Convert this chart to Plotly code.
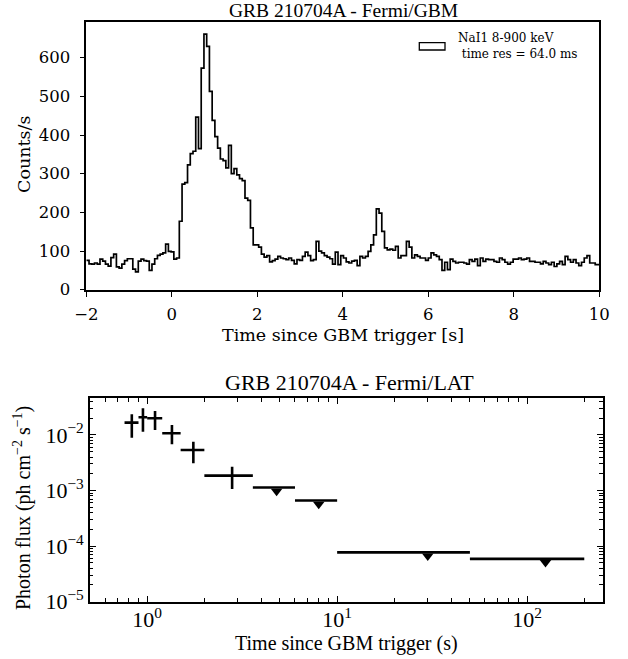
import plotly.graph_objects as go

# ---------------- data: GBM light curve (64 ms bins starting at -2 s) ----------------
BIN_START = -2.0
BIN_WIDTH = 0.064
counts = [
    76, 67, 66, 69, 66, 79, 74, 66, 61, 83, 92, 59, 56, 66, 75, 80, 80, 53, 46, 74,
    79, 75, 74, 50, 66, 80, 89, 92, 95, 118, 99, 98, 79, 82,
    177, 273, 277, 323, 352, 358, 446, 365, 573, 661,
    629, 513, 438, 396, 366, 338, 334, 315, 373, 300, 313, 297, 287, 282, 237, 231,
    160, 116, 116, 110, 92, 84, 88, 72,
    75, 79, 86, 82, 80, 78, 82, 76, 67, 78, 76, 86, 97, 88, 75, 78, 125, 100, 95, 88,
    84, 80, 66, 97, 65, 88, 82, 72, 69, 74, 76, 62, 86, 82, 86, 99, 116, 142, 209, 198,
    151, 108, 103, 105, 102, 112, 82, 88, 88, 125, 110, 82, 90, 86, 82, 82, 76, 82, 95, 90,
    86,
    78, 50, 71, 52, 79, 73, 69, 71, 71, 69, 66, 78, 73, 79, 62, 82, 73, 79, 78, 78,
    73, 71, 82, 78, 71, 66, 71, 79, 79, 82, 78, 79, 82, 73, 73, 71, 71, 67, 73, 69,
    65, 71, 60, 67, 73, 65, 86, 78, 71, 78, 69, 62, 71, 82, 88, 69, 69, 65, 65,
]

# ---------------- data: LAT photon flux ----------------
det_tstart = [0.76, 0.90, 1.00, 1.20, 1.50, 2.00]
det_tstop = [0.90, 1.00, 1.20, 1.50, 2.00, 3.60]
det_flux = [0.0166, 0.0207, 0.0199, 0.0107, 0.00535, 0.00185]
det_flux_hi = [0.0234, 0.0301, 0.0269, 0.0151, 0.00755, 0.00268]
det_flux_lo = [0.0089, 0.0114, 0.0123, 0.0068, 0.00308, 0.00106]

ul_tstart = [3.6, 6.0, 10.0, 50.0]
ul_tstop = [6.0, 10.0, 50.0, 200.0]
ul_flux = [0.00113, 0.00066, 7.7e-5, 5.9e-5]

# ---------------- figure ----------------
W, H = 628, 659
SERIF = "Liberation Serif"
DJV = "DejaVu Serif"


def px_x(p):
    return p / W


def px_y(p):
    return 1 - p / H


edges = [BIN_START + BIN_WIDTH * i for i in range(len(counts) + 1)]
xs = edges
ys = counts + [counts[-1]]

fig = go.Figure()

fig.add_trace(go.Scatter(
    x=xs, y=ys, mode="lines", line=dict(shape="hv", color="black", width=1.7),
    showlegend=False, xaxis="x", yaxis="y", hoverinfo="skip",
))

# detections
det_t = [(a + b) / 2 for a, b in zip(det_tstart, det_tstop)]
fig.add_trace(go.Scatter(
    x=det_t, y=det_flux, mode="markers", marker=dict(size=1, color="black", opacity=0),
    error_x=dict(type="data", symmetric=False,
                 array=[b - c for b, c in zip(det_tstop, det_t)],
                 arrayminus=[c - a for a, c in zip(det_tstart, det_t)],
                 thickness=2.6, width=0, color="black"),
    error_y=dict(type="data", symmetric=False,
                 array=[h - f for h, f in zip(det_flux_hi, det_flux)],
                 arrayminus=[f - l for f, l in zip(det_flux, det_flux_lo)],
                 thickness=2.6, width=0, color="black"),
    showlegend=False, xaxis="x2", yaxis="y2",
))

# upper limits
ul_t = [(a + b) / 2 for a, b in zip(ul_tstart, ul_tstop)]
fig.add_trace(go.Scatter(
    x=ul_t, y=ul_flux, mode="markers", marker=dict(size=1, color="black", opacity=0),
    error_x=dict(type="data", symmetric=False,
                 array=[b - c for b, c in zip(ul_tstop, ul_t)],
                 arrayminus=[c - a for a, c in zip(ul_tstart, ul_t)],
                 thickness=2.6, width=0, color="black"),
    showlegend=False, xaxis="x2", yaxis="y2",
))
UL_MARKER_SHIFT = 0.86
fig.add_trace(go.Scatter(
    x=ul_t, y=[u * UL_MARKER_SHIFT for u in ul_flux], mode="markers",
    marker=dict(symbol="triangle-down", size=10, color="black", line=dict(width=0)),
    showlegend=False, xaxis="x2", yaxis="y2",
))

top_tickfont = dict(family=DJV, size=16.5, color="black")
bot_tickfont = dict(family=SERIF, size=22, color="black")

dec_minor = []
for d in range(-6, 0):
    for m in range(2, 10):
        dec_minor.append(m * 10 ** d)
x_minor = []
for d in range(-1, 3):
    for m in range(2, 10):
        x_minor.append(m * 10 ** d)

fig.update_layout(
    width=W, height=H, margin=dict(l=0, r=0, t=0, b=0),
    plot_bgcolor="white", paper_bgcolor="white",
    xaxis=dict(domain=[px_x(86.3), px_x(599.3)], anchor="y", range=[-2, 10], automargin=False,
               tickvals=[-2, 0, 2, 4, 6, 8, 10], ticks="outside", ticklen=5, tickwidth=1.3,
               tickcolor="black", showline=True, linecolor="black", linewidth=1.6, mirror=True,
               showgrid=False, zeroline=False, tickfont=top_tickfont, ticklabelstandoff=4),
    yaxis=dict(domain=[px_y(289.7), px_y(21.7)], anchor="x", range=[0, 693], automargin=False,
               tickvals=[0, 100, 200, 300, 400, 500, 600], ticks="outside", ticklen=5,
               tickwidth=1.3, tickcolor="black", showline=True, linecolor="black",
               linewidth=1.6, mirror=True, showgrid=False, zeroline=False, tickfont=top_tickfont,
               ticklabelstandoff=6),
    xaxis2=dict(domain=[px_x(90), px_x(602.7)], anchor="y2", type="log", automargin=False,
                range=[-0.301, 2.398], tickvals=[1, 10, 100],
                ticktext=["10<sup>0</sup>", "10<sup>1</sup>", "10<sup>2</sup>"],
                ticks="inside", ticklen=6, tickwidth=1.3, tickcolor="black",
                minor=dict(ticks="inside", ticklen=3.5, tickwidth=1, tickcolor="black",
                           tickmode="array", tickvals=x_minor),
                showline=True, linecolor="black", linewidth=1.6, mirror="ticks",
                showgrid=False, zeroline=False, tickfont=bot_tickfont, ticklabelstandoff=-3),
    yaxis2=dict(domain=[px_y(601.7), px_y(398.3)], anchor="x2", type="log", automargin=False,
                range=[-5, -1.342], tickvals=[1e-5, 1e-4, 1e-3, 1e-2],
                ticktext=["10<sup>−5</sup>", "10<sup>−4</sup>", "10<sup>−3</sup>", "10<sup>−2</sup>"],
                ticks="inside", ticklen=6, tickwidth=1.3, tickcolor="black",
                minor=dict(ticks="inside", ticklen=3.5, tickwidth=1, tickcolor="black",
                           tickmode="array", tickvals=dec_minor),
                showline=True, linecolor="black", linewidth=1.6, mirror="ticks",
                showgrid=False, zeroline=False, tickfont=bot_tickfont),
)

ann = [
    dict(text="GRB 210704A - Fermi/GBM", x=px_x(343), y=px_y(11), font=dict(family=SERIF, size=19.5)),
    dict(text="Time since GBM trigger [s]", x=px_x(343), y=px_y(335), font=dict(family=DJV, size=17.5)),
    dict(text="Counts/s", x=px_x(24), y=px_y(155), textangle=-90, font=dict(family=DJV, size=17.5)),
    dict(text="GRB 210704A - Fermi/LAT", x=px_x(349), y=px_y(382), font=dict(family=SERIF, size=22)),
    dict(text="Time since GBM trigger (s)", x=px_x(346), y=px_y(643), font=dict(family=SERIF, size=20)),
    dict(text="Photon flux (ph cm<sup>−2</sup> s<sup>−1</sup>)", x=px_x(22), y=px_y(508),
         textangle=-90, font=dict(family=SERIF, size=20)),
]
for a in ann:
    a["font"]["color"] = "black"
    fig.add_annotation(xref="paper", yref="paper", showarrow=False,
                       xanchor="center", yanchor="middle", **a)

# legend (histogram-style patch)
fig.add_shape(type="rect", xref="paper", yref="paper",
              x0=px_x(419.3), x1=px_x(445), y0=px_y(50), y1=px_y(42.7),
              line=dict(color="black", width=1.3), fillcolor="white")
fig.add_annotation(xref="paper", yref="paper", showarrow=False,
                   text="NaI1 8-900 keV<br> time res = 64.0 ms", align="left",
                   x=px_x(456), y=px_y(46), xanchor="left", yanchor="middle",
                   font=dict(family="DejaVu Serif", size=12, color="black"))

fig.write_html("out.html", config={"displayModeBar": False},
               post_script="document.body.style.margin='0px';")
